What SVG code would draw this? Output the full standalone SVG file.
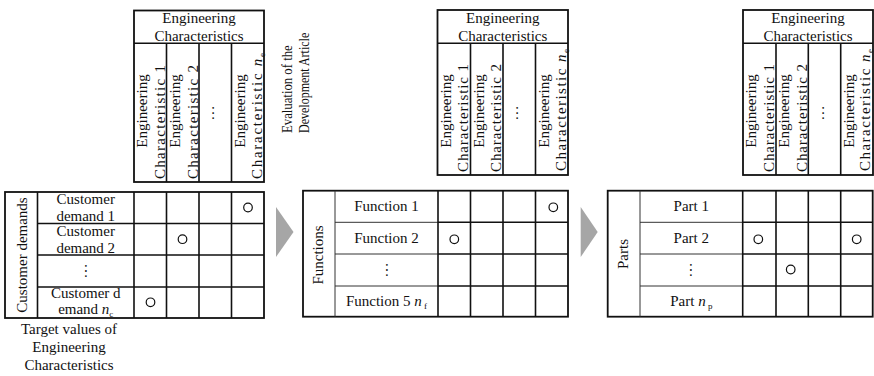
<svg xmlns="http://www.w3.org/2000/svg" width="874" height="376" viewBox="0 0 874 376">
<defs>
<style>
text{font-family:"Liberation Serif","Times New Roman",serif;font-size:15px;fill:#111}
.c{text-anchor:middle}
.box{fill:#fff;stroke:#111;stroke-width:1.8}
.ln{stroke:#111;stroke-width:1.6;fill:none}
.thin{stroke:#333;stroke-width:1;fill:none}
.mk{fill:none;stroke:#111;stroke-width:1.2}
.arr{fill:#a6a6a6}
.i{font-style:italic}
.s{font-size:9px}
</style>
</defs>

<g id="header1">
<rect class="box" x="134" y="10.5" width="130" height="171.5"/>
<path class="ln" d="M134 43.3H264M166.5 43.3V182M199 43.3V182M231.5 43.3V182"/>
<text class="c" x="199" y="23">Engineering</text>
<text class="c" x="199" y="41">Characteristics</text>
<text class="c" transform="translate(147,111) rotate(-90)">Engineering</text>
<text class="c" transform="translate(164.5,122) rotate(-90)" textLength="114" lengthAdjust="spacing">Characteristic 1</text>
<text class="c" transform="translate(180,111) rotate(-90)">Engineering</text>
<text class="c" transform="translate(197.5,122) rotate(-90)" textLength="114" lengthAdjust="spacing">Characteristic 2</text>
<text class="c" transform="translate(214,113) rotate(-90)">…</text>
<text class="c" transform="translate(244.5,111) rotate(-90)">Engineering</text>
<text class="c" transform="translate(262,116) rotate(-90)" textLength="126" lengthAdjust="spacing">Characteristic <tspan class="i">n</tspan><tspan class="s" dy="3">e</tspan></text>
</g>

<g id="evaluation">
<text transform="translate(292,133) rotate(-90) scale(0.85,1)">Evaluation of the</text>
<text transform="translate(308.5,133) rotate(-90) scale(0.8,1)">Development Article</text>
</g>

<g id="header2">
<rect class="box" x="437.5" y="10" width="130.5" height="165"/>
<path class="ln" d="M437.5 43.3H568M470.5 43.3V175M503 43.3V175M535.5 43.3V175"/>
<text class="c" x="502.75" y="23">Engineering</text>
<text class="c" x="502.75" y="41">Characteristics</text>
<text class="c" transform="translate(450.5,111) rotate(-90)">Engineering</text>
<text class="c" transform="translate(468,118) rotate(-90)" textLength="108" lengthAdjust="spacing">Characteristic 1</text>
<text class="c" transform="translate(483.5,111) rotate(-90)">Engineering</text>
<text class="c" transform="translate(501,118) rotate(-90)" textLength="108" lengthAdjust="spacing">Characteristic 2</text>
<text class="c" transform="translate(518,113) rotate(-90)">…</text>
<text class="c" transform="translate(548.5,111) rotate(-90)">Engineering</text>
<text class="c" transform="translate(566,110) rotate(-90)" textLength="122" lengthAdjust="spacing">Characteristic <tspan class="i">n</tspan><tspan class="s" dy="3">e</tspan></text>
</g>

<g id="header3">
<rect class="box" x="743" y="10" width="130" height="165"/>
<path class="ln" d="M743 43.3H873M776 43.3V175M808.3 43.3V175M840.7 43.3V175"/>
<text class="c" x="808" y="23">Engineering</text>
<text class="c" x="808" y="41">Characteristics</text>
<text class="c" transform="translate(756,111) rotate(-90)">Engineering</text>
<text class="c" transform="translate(773.5,118) rotate(-90)" textLength="108" lengthAdjust="spacing">Characteristic 1</text>
<text class="c" transform="translate(789,111) rotate(-90)">Engineering</text>
<text class="c" transform="translate(806.5,118) rotate(-90)" textLength="108" lengthAdjust="spacing">Characteristic 2</text>
<text class="c" transform="translate(823.5,113) rotate(-90)">…</text>
<text class="c" transform="translate(853.7,111) rotate(-90)">Engineering</text>
<text class="c" transform="translate(869.5,110) rotate(-90)" textLength="122" lengthAdjust="spacing">Characteristic <tspan class="i">n</tspan><tspan class="s" dy="3">e</tspan></text>
</g>

<g id="table1">
<rect class="box" x="5" y="192" width="259" height="126"/>
<path class="ln" d="M37.5 192V318M134 192V318M166.5 192V318M199 192V318M231.5 192V318M37.5 223.5H264M37.5 255H264M37.5 287H264"/>
<text class="c" transform="translate(26.5,255) rotate(-90)">Customer demands</text>
<text class="c" x="85.75" y="204">Customer</text>
<text class="c" x="85.75" y="221">demand 1</text>
<text class="c" x="85.75" y="235.5">Customer</text>
<text class="c" x="85.75" y="252.5">demand 2</text>
<text class="c" transform="translate(84.5,271) rotate(90)">…</text>
<text class="c" x="85.75" y="297.5">Customer d</text>
<text class="c" x="85.75" y="314">emand <tspan class="i">n</tspan><tspan class="s" dy="3">c</tspan></text>
<circle class="mk" cx="248" cy="207.5" r="4.3"/>
<circle class="mk" cx="182.5" cy="239.2" r="4.3"/>
<circle class="mk" cx="150.5" cy="302.3" r="4.3"/>
</g>

<g id="table2">
<rect class="box" x="303" y="190.7" width="265" height="126"/>
<path class="thin" d="M335 190.7V316.7M335 222.3H438M335 254H438M335 286H438"/>
<path class="ln" d="M438 190.7V316.7M470.5 190.7V316.7M503 190.7V316.7M535.5 190.7V316.7M438 222.3H568M438 254H568M438 286H568"/>
<text class="c" transform="translate(323,255) rotate(-90)">Functions</text>
<text class="c" x="386.5" y="211">Function 1</text>
<text class="c" x="386.5" y="243">Function 2</text>
<text class="c" transform="translate(385.5,270) rotate(90)">…</text>
<text class="c" x="386.5" y="306">Function 5 <tspan class="i">n</tspan><tspan class="s" dy="3"> f</tspan></text>
<circle class="mk" cx="553.3" cy="207.3" r="4.3"/>
<circle class="mk" cx="454.3" cy="239.3" r="4.3"/>
</g>

<g id="table3">
<rect class="box" x="607.7" y="190.7" width="265" height="126"/>
<path class="thin" d="M640 190.7V316.7M640 222.3H742.7M640 254H742.7M640 286H742.7"/>
<path class="ln" d="M742.7 190.7V316.7M776 190.7V316.7M808.3 190.7V316.7M840.7 190.7V316.7M742.7 222.3H872.7M742.7 254H872.7M742.7 286H872.7"/>
<text class="c" transform="translate(628,254) rotate(-90)">Parts</text>
<text class="c" x="691.3" y="211">Part 1</text>
<text class="c" x="691.3" y="243">Part 2</text>
<text class="c" transform="translate(690.3,270) rotate(90)">…</text>
<text class="c" x="691.3" y="306">Part <tspan class="i">n</tspan><tspan class="s" dy="3"> p</tspan></text>
<circle class="mk" cx="758.3" cy="239.3" r="4.3"/>
<circle class="mk" cx="856.7" cy="239.3" r="4.3"/>
<circle class="mk" cx="790.7" cy="269.5" r="4.3"/>
</g>

<g id="target">
<text class="c" x="69" y="334">Target values of</text>
<text class="c" x="69" y="352">Engineering</text>
<text class="c" x="69" y="370">Characteristics</text>
</g>

<g id="connectors">
<polygon class="arr" points="276,207 293.5,232 276,257"/>
<polygon class="arr" points="580.7,207 597.7,232 580.7,257"/>
</g>
</svg>
